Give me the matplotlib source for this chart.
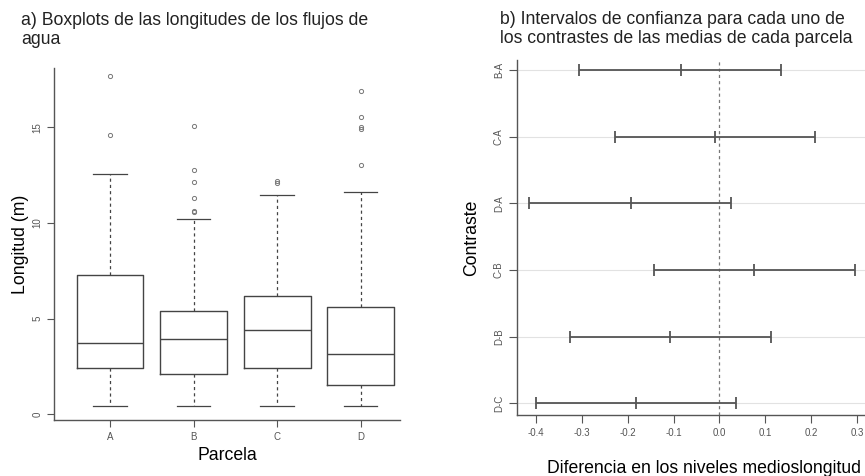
import numpy as np
import matplotlib.pyplot as plt

plt.rcParams['font.family'] = ['Liberation Sans', 'DejaVu Sans']

# --- Boxplot summary per plot (m) ---
parcelas = ['A', 'B', 'C', 'D']
medianas = [3.73, 3.91, 4.40, 3.16]
q1 = [2.44, 2.09, 2.44, 1.52]
q3 = [7.27, 5.41, 6.19, 5.62]
bigote_inf = [0.42, 0.42, 0.42, 0.42]
bigote_sup = [12.58, 10.19, 11.48, 11.63]
atipicos = [
    [17.69, 14.60],
    [15.07, 12.77, 12.16, 11.29, 10.65, 10.56],
    [12.21, 12.07],
    [16.92, 15.56, 15.00, 14.90, 13.01],
]

# --- Tukey contrasts of the means ---
contrastes = ['B-A', 'C-A', 'D-A', 'C-B', 'D-B', 'D-C']
dif = [-0.085, -0.010, -0.193, 0.076, -0.107, -0.182]
lim_inf = [-0.306, -0.229, -0.415, -0.143, -0.326, -0.400]
lim_sup = [0.134, 0.209, 0.026, 0.296, 0.112, 0.036]
xticks_b = [-0.4, -0.3, -0.2, -0.1, 0.0, 0.1, 0.2, 0.3]
xticklabels_b = ['-0.4', '-0.3', '-0.2', '-0.1', '0.0', '0.1', '0.2', '0.3']

gris = '#555555'
W, H = 865, 476

fig = plt.figure(figsize=(W / 100, H / 100), dpi=100)


def pos(x0, y0, x1, y1):
    return [x0 / W, 1 - y1 / H, (x1 - x0) / W, (y1 - y0) / H]


def estilo(ax):
    for s in ['top', 'right']:
        ax.spines[s].set_visible(False)
    for s in ['left', 'bottom']:
        ax.spines[s].set_color(gris)
        ax.spines[s].set_linewidth(1.0)
    ax.tick_params(colors=gris, labelsize=7, length=5, width=0.8)


# a) boxplots
ax1 = fig.add_axes(pos(54, 68, 400, 420))
stats = []
for i, p in enumerate(parcelas):
    stats.append(dict(label=p, med=medianas[i], q1=q1[i], q3=q3[i],
                      whislo=bigote_inf[i], whishi=bigote_sup[i],
                      fliers=atipicos[i]))
ax1.bxp(stats, positions=range(1, 5), widths=0.8, capwidths=0.4,
        boxprops=dict(color='#444444', lw=1.0),
        medianprops=dict(color='#444444', lw=1.0),
        whiskerprops=dict(color='#444444', lw=0.9, ls=(0, (2.5, 2.5))),
        capprops=dict(color='#444444', lw=0.9),
        flierprops=dict(marker='o', markersize=3, markerfacecolor='none',
                        markeredgecolor='#777777', markeredgewidth=0.7))
ax1.set_xlim(0.33, 4.47)
ax1.set_ylim(-0.3, 18.1)
ax1.set_yticks([0, 5, 10, 15])
estilo(ax1)
for t in ax1.get_yticklabels():
    t.set_rotation(90)
    t.set_va('center')
ax1.set_xlabel('Parcela', fontsize=12.7, labelpad=4)
ax1.set_ylabel('Longitud (m)', fontsize=12.7, labelpad=2)
fig.text(21 / W, 1 - 12 / H, 'a) Boxplots de las longitudes de los flujos de\nagua',
         fontsize=12.7, ha='left', va='top', linespacing=1.12, color='#222222')

# b) confidence intervals
ax2 = fig.add_axes(pos(517, 60, 867, 415))
y = np.arange(len(contrastes), 0, -1)
dif = np.array(dif)
err = [dif - np.array(lim_inf), np.array(lim_sup) - dif]
for yy in y:
    ax2.axhline(yy, color='#e2e2e2', lw=0.8, zorder=0)
ax2.axvline(0, color='#777777', lw=0.9, ls=(0, (2.5, 2.5)), zorder=1)
ax2.errorbar(dif, y, xerr=err, fmt='none', ecolor=gris, elinewidth=1.3,
             capsize=4.3, capthick=1.3, zorder=2)
ax2.plot(dif, y, ls='none', marker='|', markersize=8.6, markeredgewidth=1.3,
         color=gris, zorder=3)
ax2.set_xlim(-0.442, 0.322)
ax2.set_ylim(0.825, 6.15)
ax2.set_yticks(y)
ax2.set_yticklabels(contrastes)
ax2.set_xticks(xticks_b)
ax2.set_xticklabels(xticklabels_b)
estilo(ax2)
ax2.tick_params(length=6)
for t in ax2.get_yticklabels():
    t.set_rotation(90)
    t.set_va('center')
ax2.set_ylabel('Contraste', fontsize=12.7, labelpad=10)
ax2.set_xlabel('Diferencia en los niveles medioslongitud', fontsize=12.7,
               labelpad=14)
ax2.xaxis.set_label_coords((704 - 517) / 350, -0.128)
fig.text(500 / W, 1 - 11 / H,
         'b) Intervalos de confianza para cada uno de\nlos contrastes de las medias de cada parcela',
         fontsize=12.7, ha='left', va='top', linespacing=1.12, color='#222222')

fig.savefig('out.png', dpi=100)
